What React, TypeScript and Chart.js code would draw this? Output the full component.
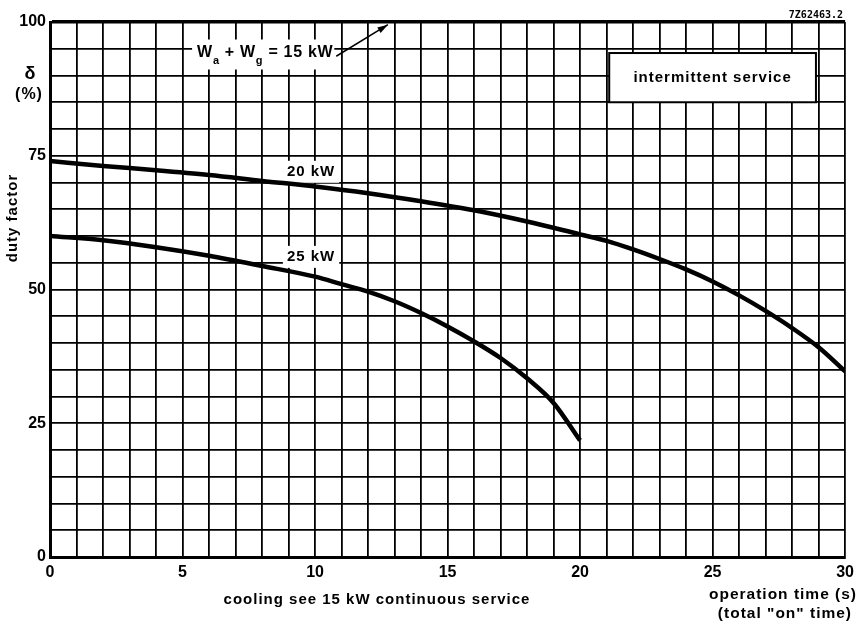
import React, { useEffect, useRef } from 'react';
import { Chart, registerables } from 'chart.js';
Chart.register(...registerables);

// 20 kW curve (operation time s -> duty factor %)
const time20 = [0, 2, 4, 6, 8, 10, 12, 14, 16, 18, 20, 21, 22, 23, 24, 25, 26, 27, 28, 29, 30];
const duty20 = [74, 73.1, 72.3, 71.4, 70.3, 69.25, 68.0, 66.5, 64.8, 62.7, 60.3, 59.1, 57.5, 55.7, 53.75, 51.5, 48.9, 46.0, 42.8, 39.2, 34.7];
// 25 kW curve
const time25 = [0, 2, 4, 6, 8, 10, 11, 12, 13, 14, 15, 16, 17, 18, 19, 20];
const duty25 = [60, 59.2, 57.9, 56.3, 54.4, 52.4, 51.0, 49.6, 47.8, 45.6, 43.1, 40.3, 37.2, 33.4, 28.8, 21.8];

const xLabelTicks = [0, 5, 10, 15, 20, 25, 30];
const yLabelTicks = [0, 25, 50, 75, 100];

const FONT = "'Liberation Sans', Arial, sans-serif";

// annotation anchors in data coordinates
const curveLabels = [
  { text: '20 kW', x: 9.85, y: 72.0 },
  { text: '25 kW', x: 9.85, y: 56.1 },
];
const sumLabel = { x: 5.55, y: 94.3 };
const arrowFrom = { x: 10.8, y: 93.6 };
const arrowTo = { x: 12.75, y: 99.5 };
const boxArea = { x0: 21.1, x1: 28.9, y0: 94.2, y1: 85.0, text: 'intermittent service' };

const setSpacing = (ctx: any, v: string) => {
  try { ctx.letterSpacing = v; } catch (e) { /* ignore */ }
};

const textPlugin = {
  id: 'textPlugin',
  beforeDatasetsDraw(chart: any) {
    const { ctx, scales } = chart;
    const xs = scales.x, ys = scales.y;
    ctx.save();
    ctx.fillStyle = '#000';
    ctx.textBaseline = 'middle';
    ctx.font = `bold 15px ${FONT}`;
    setSpacing(ctx, '1px');
    for (const l of curveLabels) {
      const px = xs.getPixelForValue(l.x);
      const py = ys.getPixelForValue(l.y);
      const w = ctx.measureText(l.text).width + 8;
      ctx.fillStyle = '#fff';
      ctx.fillRect(px - w / 2, py - 11, w, 22);
      ctx.fillStyle = '#000';
      ctx.textAlign = 'center';
      ctx.fillText(l.text, px, py);
    }
    setSpacing(ctx, '0px');
    ctx.restore();
  },
  afterDraw(chart: any) {
    const { ctx, scales } = chart;
    const xs = scales.x, ys = scales.y;
    ctx.save();
    ctx.fillStyle = '#000';
    ctx.strokeStyle = '#000';
    setSpacing(ctx, '0.7px');

    // Wa + Wg = 15 kW
    const sx = xs.getPixelForValue(sumLabel.x);
    const sy = ys.getPixelForValue(sumLabel.y);
    const parts: [string, boolean][] = [['W', false], ['a', true], [' + W', false], ['g', true], [' = 15 kW', false]];
    let tw = 0;
    for (const [t, sub] of parts) {
      ctx.font = sub ? `bold 11px ${FONT}` : `bold 16px ${FONT}`;
      tw += ctx.measureText(t).width;
    }
    ctx.fillStyle = '#fff';
    ctx.fillRect(sx - 5, sy - 13, tw + 6, 30);
    ctx.fillStyle = '#000';
    ctx.textAlign = 'left';
    ctx.textBaseline = 'middle';
    let cx = sx;
    for (const [t, sub] of parts) {
      ctx.font = sub ? `bold 11px ${FONT}` : `bold 16px ${FONT}`;
      ctx.fillText(t, cx, sub ? sy + 8 : sy);
      cx += ctx.measureText(t).width;
    }

    // arrow
    const ax0 = xs.getPixelForValue(arrowFrom.x), ay0 = ys.getPixelForValue(arrowFrom.y);
    const ax1 = xs.getPixelForValue(arrowTo.x), ay1 = ys.getPixelForValue(arrowTo.y);
    ctx.lineWidth = 1.5;
    ctx.beginPath();
    ctx.moveTo(ax0, ay0);
    ctx.lineTo(ax1, ay1);
    ctx.stroke();
    const ang = Math.atan2(ay1 - ay0, ax1 - ax0);
    ctx.beginPath();
    ctx.moveTo(ax1, ay1);
    ctx.lineTo(ax1 - 11 * Math.cos(ang - 0.3), ay1 - 11 * Math.sin(ang - 0.3));
    ctx.lineTo(ax1 - 11 * Math.cos(ang + 0.3), ay1 - 11 * Math.sin(ang + 0.3));
    ctx.closePath();
    ctx.fill();

    // intermittent service box
    setSpacing(ctx, '1px');
    const bx0 = xs.getPixelForValue(boxArea.x0), bx1 = xs.getPixelForValue(boxArea.x1);
    const by0 = ys.getPixelForValue(boxArea.y0), by1 = ys.getPixelForValue(boxArea.y1);
    ctx.fillStyle = '#fff';
    ctx.fillRect(bx0, by0, bx1 - bx0, by1 - by0);
    ctx.lineWidth = 2;
    ctx.strokeRect(bx0, by0, bx1 - bx0, by1 - by0);
    ctx.fillStyle = '#000';
    ctx.font = `bold 15px ${FONT}`;
    ctx.textAlign = 'center';
    ctx.fillText(boxArea.text, (bx0 + bx1) / 2, (by0 + by1) / 2);

    // figure id
    setSpacing(ctx, '0px');
    ctx.font = `bold 10px 'DejaVu Sans Mono', monospace`;
    ctx.textAlign = 'right';
    ctx.fillText('7Z62463.2', 843, 15);

    // y title
    ctx.font = `bold 18px ${FONT}`;
    ctx.textAlign = 'center';
    ctx.fillText('δ', 30, 74);
    setSpacing(ctx, '1px');
    ctx.font = `bold 16px ${FONT}`;
    ctx.fillText('(%)', 29, 95);
    ctx.save();
    ctx.translate(13, 218);
    ctx.rotate(-Math.PI / 2);
    ctx.font = `bold 15px ${FONT}`;
    ctx.fillText('duty factor', 0, 0);
    ctx.restore();

    // x titles
    ctx.font = `bold 15px ${FONT}`;
    ctx.textAlign = 'center';
    ctx.fillText('cooling see 15 kW continuous service', 377, 600);
    ctx.textAlign = 'right';
    ctx.font = `bold 15.5px ${FONT}`;
    ctx.fillText('operation time (s)', 857, 595);
    ctx.fillText('(total "on" time)', 852, 614);
    setSpacing(ctx, '0px');
    ctx.restore();
  },
};

export default function App() {
  const ref = useRef<HTMLCanvasElement>(null);
  useEffect(() => {
    if (!ref.current) return;
    const chart = new Chart(ref.current, {
      type: 'line',
      data: {
        datasets: [
          {
            label: '20 kW',
            data: time20.map((x, i) => ({ x, y: duty20[i] })),
            borderColor: '#000',
            borderWidth: 4.5,
            pointRadius: 0,
            cubicInterpolationMode: 'monotone',
            fill: false,
          },
          {
            label: '25 kW',
            data: time25.map((x, i) => ({ x, y: duty25[i] })),
            borderColor: '#000',
            borderWidth: 4.5,
            pointRadius: 0,
            cubicInterpolationMode: 'monotone',
            fill: false,
          },
        ],
      },
      options: {
        animation: false,
        responsive: true,
        maintainAspectRatio: false,
        layout: { padding: { left: 0, top: 22, right: 12, bottom: 0 } },
        plugins: { legend: { display: false }, tooltip: { enabled: false } },
        scales: {
          x: {
            type: 'linear',
            min: 0,
            max: 30,
            afterFit: (s: any) => { s.height = 66; },
            ticks: {
              stepSize: 1,
              autoSkip: false,
              maxRotation: 0,
              padding: 6,
              color: '#000',
              font: { family: FONT, weight: 'bold', size: 16 },
              callback: (v: any) => (xLabelTicks.includes(v) ? String(v) : ''),
            },
            grid: {
              color: '#000',
              lineWidth: 1.8,
              drawTicks: false,
            },
            border: { display: true, color: '#000', width: 3 },
          },
          y: {
            type: 'linear',
            min: 0,
            max: 100,
            afterFit: (s: any) => { s.width = 50; },
            ticks: {
              stepSize: 5,
              autoSkip: false,
              padding: 4,
              color: '#000',
              font: { family: FONT, weight: 'bold', size: 16 },
              callback: (v: any) => (yLabelTicks.includes(v) ? String(v) : ''),
            },
            grid: {
              color: '#000',
              lineWidth: (c: any) => (c.tick && c.tick.value === 100 ? 3.5 : 1.8),
              drawTicks: false,
            },
            border: { display: true, color: '#000', width: 3 },
          },
        },
      },
      plugins: [textPlugin],
    } as any);
    return () => chart.destroy();
  }, []);
  return (
    <div style={{ position: 'fixed', left: 0, top: 0, width: 860, height: 623, background: '#fff' }}>
      <canvas ref={ref} />
    </div>
  );
}
